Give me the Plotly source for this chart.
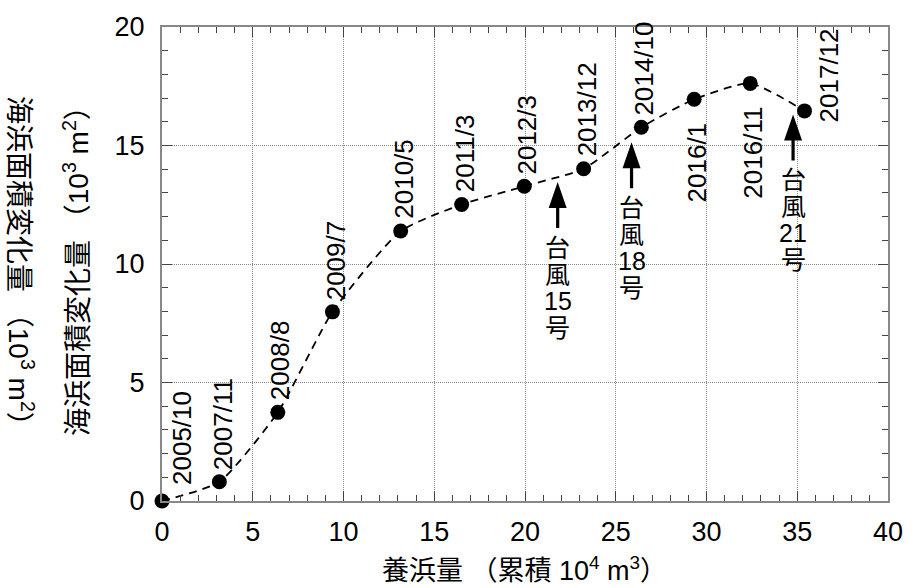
import plotly.graph_objects as go

# ---- data ----
nourish_volume = [0.0, 3.16, 6.38, 9.39, 13.15, 16.51, 19.96, 23.23, 26.41, 29.32, 32.41, 35.40]
area_change = [0.0, 0.81, 3.74, 7.98, 11.39, 12.51, 13.28, 14.02, 15.77, 16.95, 17.62, 16.46]
survey_dates = ["2005/10", "2007/11", "2008/8", "2009/7", "2010/5", "2011/3", "2012/3",
                "2013/12", "2014/10", "2016/1", "2016/11", "2017/12"]

typhoon_names = ["15", "18", "21"]
typhoon_x = [21.8, 25.87, 34.77]
typhoon_tip_y = [13.46, 15.14, 16.31]

x_ticks = [0, 5, 10, 15, 20, 25, 30, 35, 40]
y_ticks = [0, 5, 10, 15, 20]

# ---- label placement (style) ----
label_place = ["rightup", "above", "above", "above", "above", "above", "above",
               "above", "above", "below", "below", "rightdown"]

LATIN = "Liberation Sans, Arial, sans-serif"
CJK = "Liberation Sans, Noto Sans CJK JP, sans-serif"

fig = go.Figure()
fig.add_trace(go.Scatter(
    x=nourish_volume, y=area_change, mode="lines+markers",
    line=dict(color="black", width=1.8, dash="8px,6px", shape="spline", smoothing=0.55),
    marker=dict(color="black", size=15),
    showlegend=False, hoverinfo="skip", cliponaxis=False,
))

annotations = []
for xv, yv, lab, place in zip(nourish_volume, area_change, survey_dates, label_place):
    a = dict(x=xv, y=yv, xref="x", yref="y", text=lab, showarrow=False, textangle=-90,
             font=dict(family=LATIN, size=26, color="black"), borderpad=0)
    if place == "above":
        a.update(xanchor="center", yanchor="bottom", xshift=3, yshift=11)
    elif place == "below":
        a.update(xanchor="center", yanchor="top", xshift=3, yshift=-22)
    elif place == "rightup":
        a.update(xanchor="center", yanchor="bottom", xshift=20, yshift=15)
    else:
        a.update(xanchor="center", yanchor="bottom", xshift=24, yshift=-13)
    annotations.append(a)

shapes = []
line_pitch = 26.5
for tx, ty, nm in zip(typhoon_x, typhoon_tip_y, typhoon_names):
    shapes.append(dict(type="path", xref="x", yref="y", xsizemode="pixel", ysizemode="pixel",
                       xanchor=tx, yanchor=ty,
                       path="M0,0 L9,-26 L1.6,-26 L1.6,-46 L-1.6,-46 L-1.6,-26 L-9,-26 Z",
                       fillcolor="black", line=dict(width=0), layer="above"))
    for i, part in enumerate(["台", "風", nm, "号"]):
        annotations.append(dict(x=tx, y=ty, xref="x", yref="y", text=part, showarrow=False,
                                xanchor="center", yanchor="top", yshift=-51 - i * line_pitch,
                                borderpad=0,
                                font=dict(family=CJK, size=25, color="black")))

ytitle = "海浜面積変化量 （10<sup>3</sup> m<sup>2</sup>）"
annotations.append(dict(x=0, y=0.5, xref="paper", yref="paper", text=ytitle, showarrow=False,
                        textangle=90, xanchor="center", yanchor="middle", xshift=-141, yshift=-4,
                        font=dict(family=CJK, size=28, color="black")))
annotations.append(dict(x=0, y=0.5, xref="paper", yref="paper", text=ytitle, showarrow=False,
                        textangle=-90, xanchor="center", yanchor="middle", xshift=-86,
                        font=dict(family=CJK, size=28, color="black")))
annotations.append(dict(x=0.5, y=0, xref="paper", yref="paper",
                        text="養浜量 （累積 10<sup>4</sup> m<sup>3</sup>）", showarrow=False,
                        xanchor="center", yanchor="middle", yshift=-68, xshift=-1,
                        font=dict(family=CJK, size=27, color="black")))

axis_common = dict(
    showline=True, linecolor="#888", linewidth=2, mirror="ticks",
    ticks="inside", ticklen=10, tickwidth=1, tickcolor="#444",
    showgrid=True, gridcolor="#888", gridwidth=1, griddash="1px,1px",
    tickfont=dict(family=LATIN, size=27, color="black"),
    minor=dict(tickmode="linear", tick0=0, dtick=1, ticks="inside", ticklen=6,
               tickwidth=1, tickcolor="#444", showgrid=False),
    ticklabeloverflow="allow",
)

fig.update_xaxes(range=[0, 40], tickvals=x_ticks, ticktext=[str(v) for v in x_ticks],
                 zeroline=False, ticklabelstandoff=6, **axis_common)
fig.update_yaxes(range=[0, 20], tickvals=y_ticks, ticktext=[str(v) for v in y_ticks],
                 zeroline=True, zerolinecolor="black", zerolinewidth=2, ticklabelstandoff=10,
                 **axis_common)

fig.update_layout(
    width=915, height=588, autosize=False,
    margin=dict(l=162, r=19, t=24, b=87),
    paper_bgcolor="white", plot_bgcolor="white",
    annotations=annotations, shapes=shapes,
    showlegend=False,
)

fig.write_html("out.html")
